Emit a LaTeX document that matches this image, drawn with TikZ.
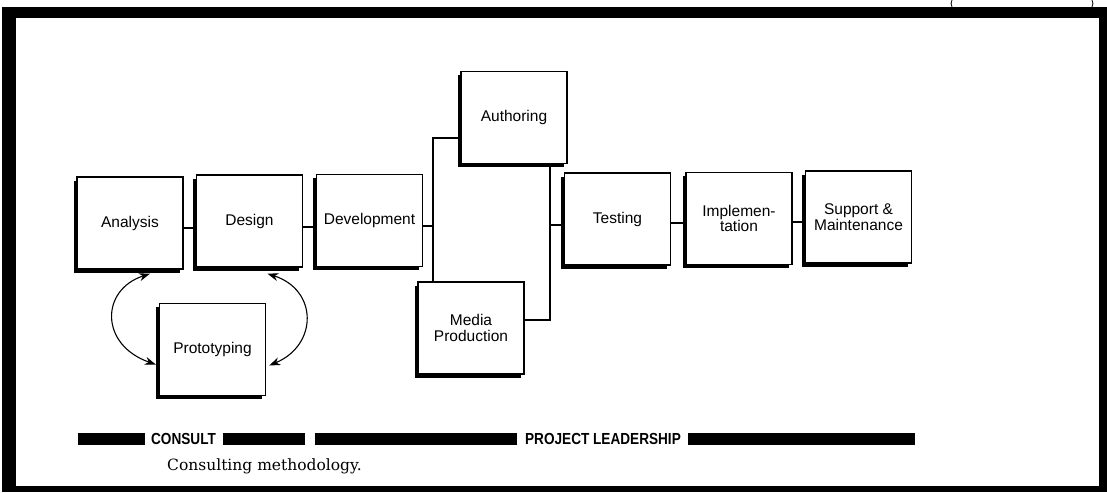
\documentclass[tikz,border=0pt]{standalone}
\usepackage{fontspec}
\setmainfont{Liberation Sans}
\newfontfamily\capfont{DejaVu Serif}
\newfontfamily\barfont[FakeStretch=0.85]{Liberation Sans Bold}
\usetikzlibrary{shadows,arrows.meta}
\tikzset{
  stagebox/.style={draw, fill=white, line width=1.4pt, minimum width=106pt, minimum height=92pt,
    inner sep=0pt, align=center, font=\fontsize{15.5}{15.5}\selectfont,
    drop shadow={shadow xshift=-3.5pt, shadow yshift=-3.5pt, fill=black, opacity=1}},
  link/.style={line width=1.3pt},
  loop/.style={line width=1.1pt, {Stealth[length=11pt,width=8pt]}-{Stealth[length=11pt,width=8pt]}},
  barseg/.style={fill=black},
  bartext/.style={font=\barfont\fontsize{16}{16}\selectfont, inner sep=0pt},
}
\begin{document}
\begin{tikzpicture}[x=1pt, y=-1pt]
\useasboundingbox (0,0) rectangle (1107,492);
% frame
\fill[black] (2,7) rectangle (1107,492);
\fill[white] (16,18) rectangle (1099,486);
\draw[line width=0.8pt] (952,0) arc[start angle=150, end angle=210, radius=7pt];
\draw[line width=0.8pt] (1092,0) arc[start angle=30, end angle=-30, radius=7pt];
% stages
\node[stagebox] (an) at (130,223) {Analysis};
\node[stagebox] (ds) at (249.5,221) {Design};
\node[stagebox] (dv) at (369.5,220.5) {Development};
\node[stagebox] (pt) at (212.5,349.5) {Prototyping};
\node[stagebox] (au) at (514,117.5) {Authoring};
\node[stagebox] (mp) at (471,328) {Media\\Production};
\node[stagebox] (ts) at (617.5,219) {Testing};
\node[stagebox] (im) at (739,218.5) {Implemen-\\tation};
\node[stagebox] (sm) at (858.5,217) {Support \&\\Maintenance};
% junction points
\coordinate (lt1) at (433,138);
\coordinate (lt2) at (433,226);
\coordinate (rt1) at (550,320);
\coordinate (rt2) at (550,225);
% connectors
\draw[link] (an.east |- 0,228) -- (ds.west |- 0,228);
\draw[link] (ds.east |- 0,227) -- (dv.west |- 0,227);
\draw[link] (dv.east |- lt2) -- (lt2);
\draw[link] (au.west |- lt1) -- (lt1) -- (lt1 |- mp.north);
\draw[link] (au.south -| rt1) -- (rt1) -- (mp.east |- rt1);
\draw[link] (rt2) -- (ts.west |- rt2);
\draw[link] (ts.east |- 0,223) -- (im.west |- 0,223);
\draw[link] (im.east |- 0,222) -- (sm.west |- 0,222);
% prototyping loops
\draw[loop] ([xshift=20pt,yshift=-4pt]an.south) .. controls (100,290) and (100,345) .. ([xshift=-3pt,yshift=-15pt]pt.west);
\draw[loop] ([xshift=18pt,yshift=-6pt]ds.south) .. controls (318,290) and (318,345) .. ([xshift=3pt,yshift=-16pt]pt.east);
% leadership bar
\fill[barseg] (78,433) rectangle (145,445);
\node[bartext] (consult) at (183.5,439) {CONSULT};
\fill[barseg] (223,433) rectangle (305,445);
\fill[barseg] (315,433) rectangle (517,445);
\node[bartext] (lead) at (603,439) {PROJECT LEADERSHIP};
\fill[barseg] (688,433) rectangle (915,445);
% caption
\node[anchor=west, inner sep=0pt, font=\capfont\fontsize{15.5}{15.5}\selectfont] (cap) at (167,466) {Consulting methodology.};
\end{tikzpicture}
\end{document}
